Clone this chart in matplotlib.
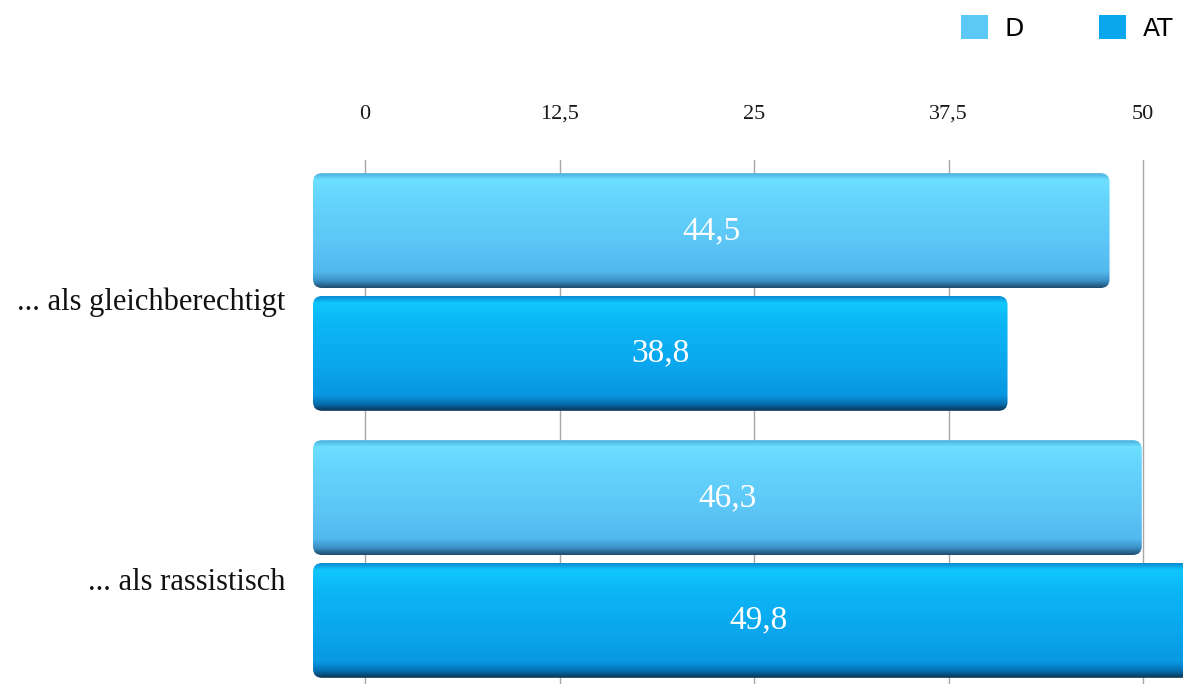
import numpy as np
import matplotlib.pyplot as plt
from matplotlib.patches import FancyBboxPatch, Patch
from matplotlib.colors import LinearSegmentedColormap

# Anteile in Prozent
kategorien = ['... als gleichberechtigt', '... als rassistisch']
serien = ['D', 'AT']
werte_d = [44.5, 46.3]
werte_at = [38.8, 49.8]
ticks = [0, 12.5, 25, 37.5, 50]
tick_labels = ['0', '12,5', '25', '37,5', '50']

farbe = {'D': '#5cc8f6', 'AT': '#0aa6ee'}
verlauf = {
    'D': [(0, '#4aaee0'), (0.06, '#6ee0ff'), (0.2, '#66d6fd'), (0.6, '#5cc6f6'),
          (0.86, '#52b8ee'), (0.94, '#3a8fc4'), (1, '#1d4c6e')],
    'AT': [(0, '#0a8ad0'), (0.06, '#10c8fd'), (0.2, '#0cb8f6'), (0.6, '#0aa6ee'),
           (0.86, '#0898e2'), (0.94, '#066fb0'), (1, '#0a3352')],
}

W, H = 1183, 684
fig = plt.figure(figsize=(W / 100, H / 100), dpi=100)

# Hintergrundwand mit Gitterlinien und Achsenbeschriftung
px_bg = 15.56
ax_bg = fig.add_axes([0, 0, 1, 524 / H])
ax_bg.set_xlim(-365 / px_bg, (W - 365) / px_bg)
ax_bg.set_ylim(0, 1)
ax_bg.set_xticks(ticks)
ax_bg.set_xticklabels(tick_labels, family='Liberation Serif', fontsize=16, color='#1a1a1a')
ax_bg.xaxis.tick_top()
ax_bg.tick_params(axis='x', length=0, pad=26)
ax_bg.set_yticks([])
for t in ticks:
    ax_bg.axvline(t, color='#a8a8a8', lw=1.0, zorder=0)
for s in ax_bg.spines.values():
    s.set_visible(False)

# Balken im Vordergrund
px_bar = 17.9
px_y = 267
x0 = 313
ax = fig.add_axes([x0 / W, 0, (W - x0) / W, 1])
ax.axis('off')
ax.patch.set_alpha(0)

hoehe = 0.43
versatz = 0.23
aspect = px_bar / px_y
radius = 9 / px_bar

for i, kat in enumerate(kategorien):
    for name, werte, dy in [('D', werte_d, -versatz), ('AT', werte_at, versatz)]:
        v = werte[i]
        yc = i + dy
        y0 = yc - hoehe / 2
        box = FancyBboxPatch((0, y0), v, hoehe,
                             boxstyle=f'round,pad=0,rounding_size={radius}',
                             mutation_aspect=aspect, facecolor='none',
                             edgecolor='none', transform=ax.transData)
        ax.add_patch(box)
        cmap = LinearSegmentedColormap.from_list(name, verlauf[name])
        grad = np.linspace(0, 1, 256).reshape(-1, 1)
        im = ax.imshow(grad, cmap=cmap, aspect='auto',
                       extent=(0, v, y0 + hoehe, y0), origin='upper',
                       interpolation='bicubic', zorder=2)
        im.set_clip_path(box)
        ax.text(v / 2, yc, f'{v:.1f}'.replace('.', ','), color='white',
                family='Liberation Serif', fontsize=24, ha='center',
                va='center', zorder=3)

ax.set_xlim(0, (W - x0) / px_bar)
ax.set_ylim((H - 292) / px_y, -292 / px_y)

# Kategorienbeschriftung links
for i, kat in enumerate(kategorien):
    y_fig = 1 - (295 + i * px_y + (7 if i == 0 else 21)) / H
    fig.text(285 / W, y_fig, kat, ha='right', va='center',
             family='Liberation Serif', fontsize=22, color='#111111')

handles = [Patch(facecolor=farbe[s], edgecolor='none', label=s) for s in serien]
fig.legend(handles=handles, loc='upper right', bbox_to_anchor=(1.0, 1 - 5 / H),
           borderaxespad=0, ncol=2, frameon=False, handlelength=1.1,
           handleheight=1.1, columnspacing=3.0, handletextpad=0.65,
           prop={'family': 'DejaVu Sans', 'size': 18})

fig.savefig('out.png', dpi=100, facecolor='white')
